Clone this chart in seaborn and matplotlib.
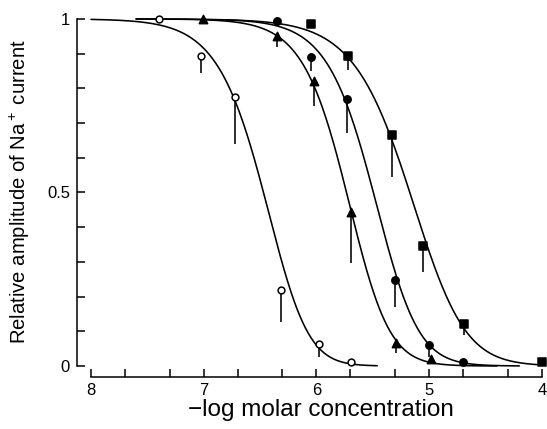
import numpy as np
import pandas as pd
import matplotlib
matplotlib.use("Agg")
import matplotlib.pyplot as plt
import seaborn as sns
from matplotlib.ticker import FixedLocator

sns.set_theme(style="white")
plt.rcParams["font.family"] = ["Liberation Sans", "DejaVu Sans"]
plt.rcParams["mathtext.fontset"] = "custom"
plt.rcParams["mathtext.rm"] = "Liberation Sans"
plt.rcParams["mathtext.it"] = "Liberation Sans"

# ---------------- data ----------------
# x = -log molar concentration, y = relative amplitude, err = one-sided (downward) bar
open_x = [7.40, 7.02, 6.72, 6.31, 5.98, 5.69]
open_y = [0.999, 0.893, 0.775, 0.219, 0.063, 0.012]
open_err = [0.0, 0.049, 0.136, 0.092, 0.037, 0.0]

tri_x = [7.01, 6.35, 6.02, 5.69, 5.29, 4.98]
tri_y = [1.000, 0.951, 0.821, 0.443, 0.066, 0.020]
tri_err = [0.0, 0.033, 0.072, 0.146, 0.029, 0.0]

circ_x = [6.35, 6.05, 5.73, 5.30, 5.00, 4.70]
circ_y = [0.994, 0.890, 0.769, 0.248, 0.060, 0.012]
circ_err = [0.0, 0.041, 0.098, 0.078, 0.034, 0.0]

sq_x = [6.05, 5.72, 5.33, 5.05, 4.69, 4.00]
sq_y = [0.984, 0.893, 0.665, 0.346, 0.121, 0.012]
sq_err = [0.0, 0.041, 0.121, 0.075, 0.032, 0.0]

# fitted curves: y = (1 + 10**(n*(pK - x)))**(-m); drawn between start and end
fit_names = ["open", "tri", "circ", "sq"]
fit_pK = [6.23, 5.60, 5.355, 5.00]
fit_n = [1.8, 2.0, 1.9, 1.55]
fit_m = [2.2, 1.6, 1.6, 1.6]
fit_start = [8.0, 7.6, 7.6, 6.8]
fit_end = [5.46, 4.4, 4.2, 4.0]

x_ticks = [8, 7, 6, 5, 4]
x_ticklabels = ["8", "7", "6", "5", "4"]
y_ticks = [0, 0.5, 1]
y_ticklabels = ["0", "0.5", "1"]

# ---------------- figure ----------------
fig = plt.figure(figsize=(5.47, 4.29), dpi=100)
ax = fig.add_axes([0.1408, 0.1212, 0.858, 0.8671])

for pK, n, m, s, e in zip(fit_pK, fit_n, fit_m, fit_start, fit_end):
    px = np.linspace(s, e, 400)
    py = (1.0 + 10 ** (n * (pK - px))) ** (-m)
    sns.lineplot(x=px, y=py, ax=ax, color="black", lw=1.15, sort=False,
                 estimator=None, zorder=2)

series = [
    (open_x, open_y, open_err, "o", "white", 24),
    (tri_x, tri_y, tri_err, "^", "black", 36),
    (circ_x, circ_y, circ_err, "o", "black", 28),
    (sq_x, sq_y, sq_err, "s", "black", 28),
]
for xs, ys, es, mk, fc, sz in series:
    xs = np.array(xs); ys = np.array(ys); es = np.array(es)
    msk = es > 0
    ax.vlines(xs[msk], ys[msk] - es[msk], ys[msk], colors="black", lw=1.15, zorder=3)
    df = pd.DataFrame({"x": xs, "y": ys})
    sns.scatterplot(data=df, x="x", y="y", ax=ax, marker=mk, s=sz,
                    facecolor=fc, edgecolor="black", linewidth=1.1, zorder=4)

ax.set_xlim(8.124, 3.96)
ax.set_ylim(-0.0317, 1.04)

for side in ["top", "right"]:
    ax.spines[side].set_visible(False)
ax.spines["left"].set_bounds(0, 1)
ax.spines["bottom"].set_bounds(4, 8)
for side in ["left", "bottom"]:
    ax.spines[side].set_color("black")
    ax.spines[side].set_linewidth(1.1)

ax.xaxis.set_major_locator(FixedLocator(x_ticks))
ax.set_xticklabels(x_ticklabels)
minor_x = [d - np.log10(k) for d in [8, 7, 6, 5] for k in (2, 5)]
ax.xaxis.set_minor_locator(FixedLocator(minor_x))
ax.yaxis.set_major_locator(FixedLocator(y_ticks))
ax.set_yticklabels(y_ticklabels)
ax.yaxis.set_minor_locator(FixedLocator([0.1, 0.2, 0.3, 0.4, 0.6, 0.7, 0.8, 0.9]))

ax.tick_params(which="both", direction="in", length=6, width=1.1, color="black",
               bottom=True, left=True, top=False, right=False)
ax.tick_params(axis="x", which="major", labelsize=12, pad=4, labelcolor="black")
ax.tick_params(axis="y", which="major", labelsize=12, pad=5, labelcolor="black")

ax.set_xlabel("")
ax.set_ylabel("")
fig.text(321 / 547, 1 - 410 / 429, "\u2212log molar concentration", fontsize=17.5,
         ha="center", va="center", color="black")
fig.text(20 / 547, 1 - 192 / 429, "Relative amplitude of Na$^+$ current", fontsize=14.6,
         ha="center", va="center", rotation=90, color="black")

fig.savefig("out.png", dpi=100)
